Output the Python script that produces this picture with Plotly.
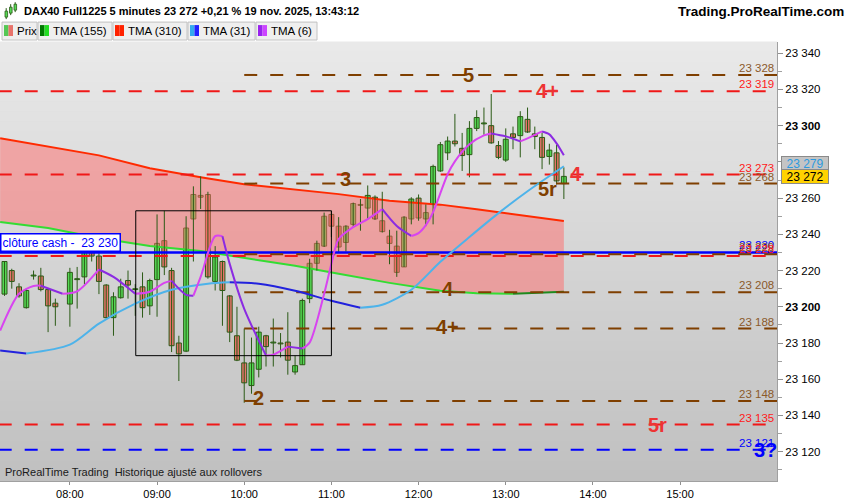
import plotly.graph_objects as go

DAY = "2025-11-19 "

# ---------------- data ----------------
candle_time = ["07:15", "07:20", "07:25", "07:30", "07:35", "07:40", "07:45", "07:50",
               "08:00", "08:05", "08:10", "08:15", "08:20", "08:25", "08:30", "08:35",
               "08:40", "08:45", "08:50", "08:55", "09:00", "09:05", "09:10", "09:15",
               "09:20", "09:25", "09:30", "09:35", "09:40", "09:45", "09:50", "09:55",
               "10:00", "10:05", "10:10", "10:15", "10:20", "10:25", "10:30", "10:35",
               "10:40", "10:45", "10:50", "10:55", "11:00", "11:05", "11:10", "11:15",
               "11:20", "11:25", "11:30", "11:35", "11:40", "11:45", "11:50", "11:55",
               "12:00", "12:05", "12:10", "12:15", "12:20", "12:25", "12:30", "12:35",
               "12:40", "12:45", "12:50", "12:55", "13:00", "13:05", "13:10", "13:15",
               "13:20", "13:25", "13:30", "13:35", "13:40"]
candle_open = [23207, 23220, 23211, 23199.5, 23217, 23217, 23209.5, 23202,
               23201.5, 23215, 23216.5, 23234.5, 23228, 23212, 23194, 23205,
               23214.5, 23209.5, 23211, 23200.5, 23215, 23236.5, 23220, 23180,
               23175.5, 23248.5, 23261.5, 23262, 23214, 23225, 23206, 23184,
               23169, 23156.5, 23165.5, 23184, 23180, 23180, 23180.5, 23164,
               23168, 23204.5, 23224, 23233.5, 23251, 23244.5, 23235.5, 23245.5,
               23256, 23254.5, 23260.5, 23247.5, 23239, 23233.5, 23222, 23248.5,
               23260, 23248.5, 23256.5, 23275, 23285, 23291.5, 23287.5, 23284,
               23298.5, 23301, 23300, 23289, 23281, 23295.5, 23294.5, 23303.5,
               23295.5, 23293.5, 23283, 23285, 23268]
candle_high = [23225, 23221, 23213, 23210, 23220, 23221.5, 23210, 23204.5,
               23221.5, 23222, 23236, 23238.5, 23229.5, 23212.5, 23208, 23215.5,
               23220, 23212.5, 23219, 23215.5, 23251, 23253, 23221.5, 23184,
               23250, 23266.5, 23272, 23263.5, 23233.5, 23225.5, 23206.5, 23200,
               23188, 23183, 23189, 23184.5, 23193.5, 23185.5, 23197, 23173,
               23204.5, 23226.5, 23236.5, 23252, 23253, 23249.5, 23245, 23257.5,
               23259.5, 23267, 23261.5, 23263.5, 23242.5, 23242, 23250, 23260.5,
               23262, 23256.5, 23278.5, 23291, 23294, 23306.5, 23296, 23302.5,
               23308.5, 23310, 23317.5, 23291.5, 23298.5, 23299.5, 23308, 23310,
               23299.5, 23296, 23290, 23289.5, 23277]
candle_low = [23206, 23210, 23205, 23199, 23215, 23208.5, 23186, 23189.5,
              23189, 23199, 23212.5, 23225, 23207, 23193.5, 23184, 23204.5,
              23204.5, 23195, 23194, 23195.5, 23194.5, 23217.5, 23175, 23159,
              23175, 23225, 23254, 23215.5, 23209, 23189.5, 23180.5, 23170,
              23147, 23152, 23161, 23167, 23167, 23172, 23162.5, 23162.5,
              23168, 23202, 23220, 23233, 23238.5, 23230, 23230.5, 23243.5,
              23242, 23248.5, 23248, 23241, 23223.5, 23216.5, 23222, 23245.5,
              23247.5, 23244.5, 23245.5, 23274.5, 23281, 23288.5, 23275, 23271.5,
              23297, 23295, 23290, 23281.5, 23280, 23287, 23282.5, 23296,
              23287, 23276, 23278.5, 23267.5, 23259.5]
candle_close = [23225, 23214, 23206, 23209, 23217.5, 23209.5, 23200.5, 23200,
                23219, 23215.5, 23233.5, 23228, 23214, 23194, 23205.5, 23211,
                23212, 23209.5, 23199.5, 23214.5, 23235, 23222, 23178.5, 23174,
                23243.5, 23262, 23260.5, 23216.5, 23227.5, 23209, 23186, 23170.5,
                23158, 23169, 23186, 23178, 23180.5, 23179.5, 23170.5, 23167.5,
                23203.5, 23224, 23235, 23250, 23244.5, 23233, 23244.5, 23257,
                23256.5, 23261.5, 23248.5, 23241.5, 23235, 23219, 23249.5, 23259.5,
                23249, 23252, 23277.5, 23289.5, 23291.5, 23290, 23283.5, 23298.5,
                23304.5, 23301.5, 23290.5, 23282.5, 23292.5, 23293.5, 23305, 23296.5,
                23294, 23282.5, 23286.5, 23269.5, 23272]

# TMA (310) and TMA (155)
slow_time = ["07:12", "07:45", "08:20", "08:55", "09:30", "10:00", "10:35",
             "11:05", "11:40", "12:15", "12:40", "13:05", "13:40"]
tma310 = [23293, 23288.5, 23283.6, 23276.5, 23271.5, 23267.7, 23264.9,
          23262.2, 23258.6, 23256.4, 23253.9, 23251.2, 23247.3]
tma155 = [23246.8, 23243.5, 23238, 23233.5, 23230.8, 23227, 23222.6,
          23218.2, 23213.2, 23208.8, 23207.4, 23207.2, 23208.3]

# TMA (31)
tma31_time = ["07:12", "07:30", "08:00", "08:20", "08:45", "09:10", "09:35", "09:50",
              "10:10", "10:35", "11:00", "11:20", "11:35", "11:55", "12:15", "12:35",
              "12:55", "13:15", "13:40"]
tma31 = [23175.8, 23174.2, 23179.1, 23190.7, 23201.7, 23209.4, 23212.7, 23213.5,
         23212.7, 23208.8, 23203.3, 23199.5, 23201.1, 23209.4, 23224.8, 23238.5,
         23251.7, 23263.8, 23277.6]

# TMA (6)
tma6_time = ["07:12", "07:25", "07:35", "07:40", "07:55", "08:05", "08:20", "08:30",
             "08:45", "08:55", "09:05", "09:10", "09:20", "09:25", "09:30", "09:40",
             "09:45", "09:50", "10:00", "10:15", "10:20", "10:30", "10:40", "10:45",
             "10:55", "11:00", "11:05", "11:15", "11:25", "11:35", "11:45", "11:55",
             "12:00", "12:05", "12:10", "12:20", "12:25", "12:35", "12:45", "12:50",
             "13:00", "13:10", "13:15", "13:25", "13:30", "13:35", "13:40"]
tma6 = [23186.8, 23207.2, 23211.5, 23211.6, 23207.2, 23208.5, 23220.6, 23216.5,
        23207.2, 23208.3, 23213.2, 23214.3, 23206.6, 23206.1, 23216.5, 23239,
        23239, 23223.7, 23198.9, 23173.1, 23173.6, 23178, 23176.9, 23180.2,
        23207.2, 23223.7, 23237.4, 23244, 23248.4, 23253.9, 23244.6, 23239.1,
        23240.7, 23245.1, 23252.3, 23273.2, 23280.3, 23289.7, 23294.6, 23295.7,
        23294.1, 23291.3, 23293, 23296.8, 23295.2, 23290.2, 23283.6]

# horizontal levels
level_values = [23328, 23319, 23273, 23268, 23230, 23229, 23228, 23208, 23188, 23148, 23135, 23121]
level_kinds = ["brown", "red", "red", "brown", "cash", "brown", "red", "brown", "brown", "brown", "red", "blue"]

# level tags
tag_texts = ["5", "4+", "3", "4", "5r", "4", "4+", "2", "5r", "3?"]
tag_times = ["12:34:30", "13:28:50", "11:09:50", "13:48:40", "13:28:50",
             "12:20:00", "12:20:00", "10:10:00", "14:44:30", "15:58:50"]
tag_values = [23328, 23319, 23270.5, 23273.5, 23265, 23210, 23189, 23149.5, 23134.5, 23121]
tag_kinds = ["brown", "red", "brown", "red", "brown", "brown", "brown", "brown", "red", "blue"]

# drawn rectangle
box_times = ["08:45:20", "11:00:00"]
box_values = [23173, 23253]

cash_label = "clôture cash -  23 230"
last_price = 23272
tma31_last = 23279

y_ticks = [23120, 23140, 23160, 23180, 23200, 23220, 23240, 23260, 23280, 23300, 23320, 23340]
bold_ticks = [23200, 23300]
x_ticks = ["08:00", "09:00", "10:00", "11:00", "12:00", "13:00", "14:00", "15:00"]

# ---------------- styling ----------------
COL = {"brown": "#7F3F00", "red": "#F01818", "blue": "#0000FF", "cash": "#0000FF"}
LBL = {"brown": "#8B5A2B", "red": "#FF1A1A", "blue": "#0000FF", "cash": "#0000FF"}
FONT = "Arial, Liberation Sans, sans-serif"
PW, PH = 777.0, 441.0
WICK = "#2B5A16"
BODY_MS = 205000  # candle body width (ms)


def T(s):
    return DAY + (s if len(s) > 5 else s + ":00")


def fmt(v):
    return f"{int(round(v)):,}".replace(",", " ")


def px(x):
    return x / PW


def py(y):
    return (483 - y) / PH


fig = go.Figure()

# gradient background
shapes = []
NB = 44
for k in range(NB):
    f = k / (NB - 1)
    c = int(round(233 - (233 - 192) * f))
    shapes.append(dict(type="rect", xref="paper", yref="paper", x0=0, x1=1,
                       y0=1 - (k + 1) / NB, y1=1 - k / NB + 0.001,
                       fillcolor=f"rgb({c},{c},{c})", line=dict(width=0), layer="below"))

# pink band between TMA 155 and TMA 310
fig.add_trace(go.Scatter(x=[T(t) for t in slow_time] + [T(t) for t in slow_time[::-1]],
                         y=tma155 + tma310[::-1], mode="lines", fill="toself",
                         fillcolor="rgba(255,105,105,0.5)", line=dict(width=0),
                         hoverinfo="skip"))


def add_segments(times, vals, up, down, width, shape):
    n = len(vals)
    i = 0
    while i < n - 1:
        d = vals[i + 1] >= vals[i]
        j = i
        while j < n - 1 and (vals[j + 1] >= vals[j]) == d:
            j += 1
        fig.add_trace(go.Scatter(x=[T(t) for t in times[i:j + 1]], y=vals[i:j + 1],
                                 mode="lines", hoverinfo="skip",
                                 line=dict(color=up if d else down, width=width,
                                           shape=shape, smoothing=0.8)))
        i = j


fig.add_trace(go.Scatter(x=[T(t) for t in slow_time], y=tma310, mode="lines",
                         line=dict(color="#FF2A00", width=2), hoverinfo="skip"))
add_segments(slow_time, tma155, "#1E8A1E", "#33DD33", 2, "linear")

# candles: wicks then bodies
wx, wy = [], []
for t, h, l in zip(candle_time, candle_high, candle_low):
    wx += [T(t), T(t), None]
    wy += [l, h, None]
fig.add_trace(go.Scatter(x=wx, y=wy, mode="lines", line=dict(color=WICK, width=1),
                         hoverinfo="skip"))
for up, fill in [(True, "#55D955"), (False, "#E8736B")]:
    xs, base, hgt = [], [], []
    for t, o, c in zip(candle_time, candle_open, candle_close):
        if (c >= o) == up:
            xs.append(T(t))
            base.append(min(o, c))
            hgt.append(max(abs(c - o), 0.45))
    fig.add_trace(go.Bar(x=xs, y=hgt, base=base, width=BODY_MS,
                         marker=dict(color=fill, line=dict(color=WICK, width=1)),
                         hoverinfo="skip"))

# horizontal levels
x_end = DAY + "16:10:00"
for v, k in zip(level_values, level_kinds):
    start = T("10:00") if k == "brown" else T("07:11")
    if k == "cash":
        line = dict(color=COL[k], width=2.5)
    else:
        line = dict(color=COL[k], width=2, dash="13px,13px")
    fig.add_trace(go.Scatter(x=[start, x_end], y=[v, v], mode="lines",
                             line=line, hoverinfo="skip"))

add_segments(tma31_time, tma31, "#4DB3EA", "#2222DD", 2, "spline")
add_segments(tma6_time, tma6, "#D844F0", "#8B2BE2", 2, "spline")

# rectangle drawing
shapes.append(dict(type="rect", xref="x", yref="y", x0=T(box_times[0]), x1=T(box_times[1]),
                   y0=box_values[0], y1=box_values[1], line=dict(color="#000000", width=1),
                   fillcolor="rgba(0,0,0,0)"))

annotations = []
# right value labels
for v, k in zip(level_values, level_kinds):
    annotations.append(dict(xref="paper", yref="y", x=775 / PW, y=v, xanchor="right",
                            yanchor="bottom", text=fmt(v), showarrow=False, borderpad=0,
                            font=dict(family=FONT, size=11.5, color=LBL[k])))
# level tags
for t, tm, v, k in zip(tag_texts, tag_times, tag_values, tag_kinds):
    annotations.append(dict(xref="x", yref="y", x=T(tm), y=v, text=f"<b>{t}</b>",
                            showarrow=False, xanchor="center", yanchor="middle",
                            font=dict(family=FONT, size=20, color=COL[k] if k != "red" else "#EE3333")))
# cash label
annotations.append(dict(xref="paper", yref="y", x=0, y=level_values[4], xanchor="left",
                        yanchor="bottom", text=cash_label, showarrow=False,
                        bgcolor="#FFFFFF", bordercolor="#0000FF", borderwidth=1.5, borderpad=1,
                        font=dict(family=FONT, size=12, color="#0000FF")))
# price boxes on the axis
annotations.append(dict(xref="paper", yref="y", x=781 / PW, y=tma31_last, xanchor="left",
                        yanchor="middle", text=fmt(tma31_last), showarrow=False,
                        width=44, height=11, borderpad=1, bgcolor="#C4C4C4",
                        bordercolor="#8A8A8A", borderwidth=1,
                        font=dict(family=FONT, size=12, color="#2B9AE0")))
annotations.append(dict(xref="paper", yref="y", x=781 / PW, y=last_price, xanchor="left",
                        yanchor="middle", text=fmt(last_price), showarrow=False,
                        width=44, height=11, borderpad=1, bgcolor="#FFD200",
                        bordercolor="#8A8A8A", borderwidth=1,
                        font=dict(family=FONT, size=12, color="#000000")))
# bottom-left caption
annotations.append(dict(xref="paper", yref="paper", x=3 / PW, y=0, xanchor="left",
                        yanchor="bottom", yshift=1, showarrow=False,
                        text="ProRealTime Trading  Historique ajusté aux rollovers",
                        font=dict(family=FONT, size=11, color="#1A1A1A")))
# header
annotations.append(dict(xref="paper", yref="paper", x=px(22), y=py(11), xanchor="left",
                        yanchor="middle", showarrow=False,
                        text="<b>DAX40 Full1225 5 minutes 23 272 +0,21 % 19 nov. 2025, 13:43:12</b>",
                        font=dict(family=FONT, size=11, color="#000000")))
annotations.append(dict(xref="paper", yref="paper", x=px(846), y=py(11), xanchor="right",
                        yanchor="middle", showarrow=False,
                        text="<b>Trading.ProRealTime.com</b>",
                        font=dict(family=FONT, size=13.5, color="#000000")))

# header icon
for (x0, y0, y1, yw0, yw1) in [(5, 11, 17, 8, 19), (9.5, 7, 13, 4, 15), (14, 4, 10, 2, 12)]:
    shapes.append(dict(type="line", xref="paper", yref="paper", x0=px(x0 + 1.2), x1=px(x0 + 1.2),
                       y0=py(yw0), y1=py(yw1), line=dict(color=WICK, width=1)))
    shapes.append(dict(type="rect", xref="paper", yref="paper", x0=px(x0), x1=px(x0 + 2.6),
                       y0=py(y0), y1=py(y1), fillcolor="#55D955",
                       line=dict(color=WICK, width=0.8)))

# legend row
legend_cells = [(2, 37, "Prix", ["#55C855", "#E8736B"]),
                (38, 112, "TMA (155)", ["#007A00", "#22DD22"]),
                (113, 187, "TMA (310)", ["#FF2200", "#FF2200"]),
                (188, 255, "TMA (31)", ["#33AAEE", "#2222FF"]),
                (256, 317, "TMA (6)", ["#9922EE", "#CC44FF"])]
for x0, x1, name, cols in legend_cells:
    shapes.append(dict(type="rect", xref="paper", yref="paper", x0=px(x0), x1=px(x1),
                       y0=py(40), y1=py(22), fillcolor="#EFEFEF",
                       line=dict(color="#C2C2C2", width=1)))
    shapes.append(dict(type="rect", xref="paper", yref="paper", x0=px(x0 + 2), x1=px(x0 + 6.5),
                       y0=py(36), y1=py(25), fillcolor=cols[0], line=dict(width=0)))
    shapes.append(dict(type="rect", xref="paper", yref="paper", x0=px(x0 + 6.5), x1=px(x0 + 11),
                       y0=py(36), y1=py(25), fillcolor=cols[1], line=dict(width=0)))
    annotations.append(dict(xref="paper", yref="paper", x=px(x0 + 13), y=py(31), xanchor="left",
                            yanchor="middle", showarrow=False, text=name,
                            font=dict(family=FONT, size=11.5, color="#000000")))

ticktext = [f"<b>{fmt(v)}</b>" if v in bold_ticks else fmt(v) for v in y_ticks]

fig.update_layout(
    width=850, height=500, margin=dict(l=0, r=73, t=42, b=17),
    paper_bgcolor="#FFFFFF", plot_bgcolor="#D8D8D8", showlegend=False,
    barmode="overlay",
    shapes=shapes, annotations=annotations,
    font=dict(family=FONT, size=11, color="#000000"),
    xaxis=dict(type="date", range=[DAY + "07:11:54", DAY + "16:06:42"],
               tickmode="array", tickvals=[T(t) for t in x_ticks], ticktext=x_ticks,
               ticks="outside", ticklen=3,
               tickcolor="#909090", showgrid=False, zeroline=False, showline=True,
               linecolor="#A0A0A0", tickfont=dict(family=FONT, size=11)),
    yaxis=dict(side="right", range=[23103.8, 23346.2], tickmode="array",
               tickvals=y_ticks, ticktext=ticktext, ticks="outside", ticklen=5,
               tickcolor="#909090", showgrid=False, zeroline=False, showline=True,
               linecolor="#A0A0A0", tickfont=dict(family=FONT, size=11.5),
               minor=dict(tickmode="linear", tick0=23100, dtick=10, ticks="outside",
                          ticklen=4, tickcolor="#A0A0A0")),
)

fig.write_html("out.html", config={"displayModeBar": False},
               post_script="document.body.style.margin='0';document.body.style.padding='0';")
